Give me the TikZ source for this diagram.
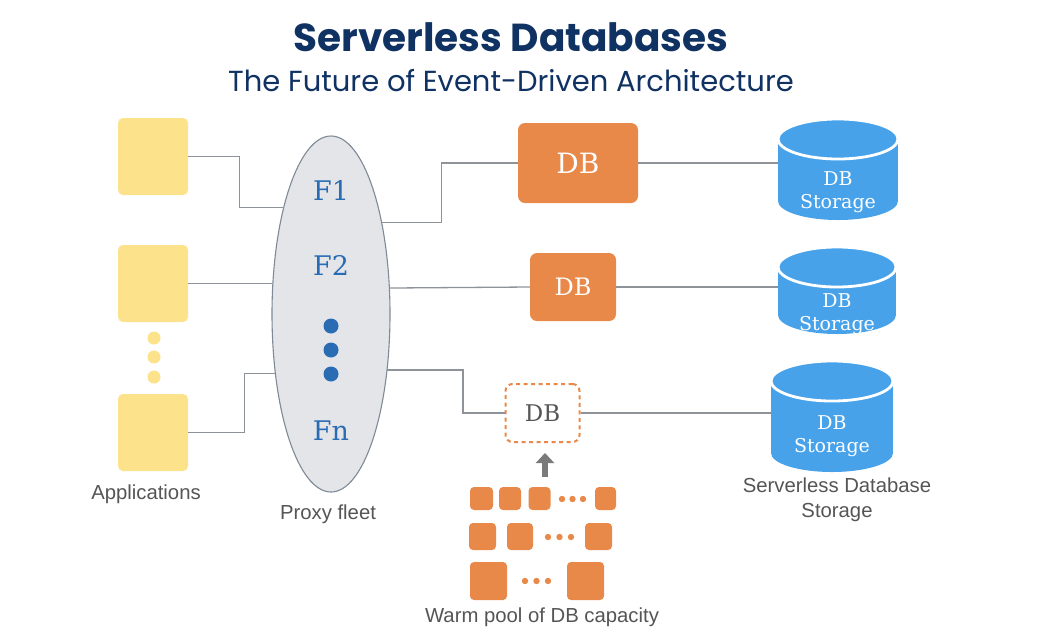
\documentclass[tikz,border=0pt]{standalone}
\usepackage{fontspec}
\setmainfont{DejaVu Serif}
\newfontfamily\titlefont{Poppins}
\newfontfamily\labelfont{Liberation Sans}
\usetikzlibrary{shapes.geometric,arrows.meta}
\definecolor{navy}{HTML}{0F3263}
\definecolor{appyellow}{HTML}{FDE28C}
\definecolor{proxyfill}{HTML}{E3E5E9}
\definecolor{proxyline}{HTML}{7F8A96}
\definecolor{fblue}{HTML}{2A6CB4}
\definecolor{dborange}{HTML}{E8894A}
\definecolor{cylblue}{HTML}{48A2EA}
\definecolor{linegray}{HTML}{8E9399}
\definecolor{labelgray}{HTML}{555555}
\definecolor{arrowgray}{HTML}{7A7A7A}
\tikzset{
  conn/.style={draw=linegray, line width=1.3pt},
  app/.style={fill=appyellow, rounded corners=5pt, minimum width=70pt, minimum height=77pt, inner sep=0pt},
  dbbox/.style={fill=dborange, rounded corners=7pt, text=white, inner sep=0pt},
  dbghost/.style={draw=dborange, dash pattern=on 4pt off 3.5pt, line width=2pt, rounded corners=7pt, text=labelgray, inner sep=0pt},
  poolbox/.style={fill=dborange, rounded corners=4pt, inner sep=0pt},
  lbl/.style={text=labelgray, font=\labelfont\fontsize{20.3}{25}\selectfont, align=center},
  flabel/.style={text=fblue, font=\fontsize{27}{30}\selectfont},
  storetext/.style={text=white, align=center, font=\fontsize{19}{22.5}\selectfont},
  bigarrow/.style={draw=arrowgray, line width=6pt, -{Triangle[width=18pt,length=10pt]}},
}
\newcommand\storagecyl[5]{% name, cx, cap cy, bottom cy, rx
  \fill[cylblue] (#2-#5,#3) rectangle (#2+#5,#4);
  \fill[cylblue] (#2,#4) ellipse[x radius=#5, y radius=19];
  \filldraw[fill=cylblue, draw=white, line width=2.8pt] (#2,#3) ellipse[x radius=#5, y radius=20];
  \node[inner sep=0pt, minimum width=2*#5 pt, minimum height=#4-#3 pt] (#1) at (#2,{(#3+#4)/2}) {};
}
\begin{document}
\begin{tikzpicture}[x=1pt,y=-1pt]
\useasboundingbox (0,0) rectangle (1049,643);
\fill[white] (0,0) rectangle (1049,643);

% titles
\node[text=navy, font=\titlefont\bfseries\fontsize{39}{44}\selectfont] (title) at (511,37) {Serverless Databases};
\node[text=navy, font=\titlefont\fontsize{29}{33}\selectfont] (subtitle) at (511,81) {The Future of Event-Driven Architecture};

% applications
\node[app] (app1) at (153,156.5) {};
\node[app] (app2) at (153,283.5) {};
\node[app] (app3) at (153,432.5) {};
\fill[appyellow] (154,338) circle[radius=6.5];
\fill[appyellow] (154,357) circle[radius=6.5];
\fill[appyellow] (154,377) circle[radius=6.5];
\node[lbl] (applbl) at (146,494) {Applications};

% proxy fleet
\node[ellipse, fill=proxyfill, draw=proxyline, line width=1.1pt, minimum width=118pt, minimum height=356pt, inner sep=0pt, outer sep=0pt] (proxy) at (331,314) {};
\node[flabel] (f1) at (331,190) {F1};
\node[flabel] (f2) at (331,265) {F2};
\node[flabel] (fn) at (331,431) {Fn};
\fill[fblue] (331,326) circle[radius=7.5];
\fill[fblue] (331,350) circle[radius=7.5];
\fill[fblue] (331,374) circle[radius=7.5];
\node[lbl] (proxylbl) at (328,514) {Proxy fleet};

% DB instances
\node[dbbox, minimum width=120pt, minimum height=80pt, font=\fontsize{28}{30}\selectfont] (db1) at (578,163) {DB};
\node[dbbox, minimum width=86pt, minimum height=68pt, font=\fontsize{24}{26}\selectfont] (db2) at (573,287) {DB};
\node[dbghost, minimum width=74pt, minimum height=58pt, font=\fontsize{23}{26}\selectfont] (db3) at (542.5,413) {DB};

% storage
\storagecyl{s1}{838}{139}{201}{60}
\storagecyl{s2}{837}{267}{315}{59}
\storagecyl{s3}{832}{381}{453}{61}
\node[storetext] (s1t) at (838,192) {DB\\Storage};
\node[storetext] (s2t) at (837,314) {DB\\Storage};
\node[storetext] (s3t) at (832,436) {DB\\Storage};
\node[lbl] (storelbl) at (837,500) {Serverless Database\\Storage};

% warm pool
\node[poolbox, minimum width=23pt, minimum height=23pt] (p11) at (481.5,498.5) {};
\node[poolbox, minimum width=22pt, minimum height=23pt] (p12) at (510,498.5) {};
\node[poolbox, minimum width=22pt, minimum height=23pt] (p13) at (539.5,498.5) {};
\node[poolbox, minimum width=21pt, minimum height=23pt] (p14) at (605.5,498.5) {};
\foreach \x in {562,572.5,583} \fill[dborange] (\x,499) circle[radius=3.2];
\node[poolbox, minimum width=27pt, minimum height=27pt] (p21) at (482.5,536.5) {};
\node[poolbox, minimum width=26pt, minimum height=27pt] (p22) at (520,536.5) {};
\node[poolbox, minimum width=27pt, minimum height=27pt] (p23) at (598.5,536.5) {};
\foreach \x in {548,559.5,571} \fill[dborange] (\x,537) circle[radius=3.2];
\node[poolbox, minimum width=37pt, minimum height=38pt] (p31) at (488.5,581) {};
\node[poolbox, minimum width=37pt, minimum height=38pt] (p32) at (585.5,581) {};
\foreach \x in {525,536.5,548} \fill[dborange] (\x,581) circle[radius=3.2];
\node[lbl] (poollbl) at (542,617) {Warm pool of DB capacity};
\coordinate (pooltop) at (545,487);
\draw[bigarrow, shorten <=10pt, shorten >=10pt] (pooltop) -- (pooltop |- db3.south);

% connectors: applications to proxy
\draw[conn] (app1.east) -- ++(51,0) |- (proxy.114.7);
\draw[conn] (app2.east) -- (app2.east -| proxy.153.5);
\draw[conn] (app3.east) -- ++(56,0) |- (proxy.227.8);
% proxy to DB
\draw[conn] (proxy.61.2) -- ++(60,0) |- (db1.west);
\draw[conn] (proxy.24.8) -- (db2.west);
\draw[conn] (proxy.-45.5) -- ++(76,0) |- (db3.west);
% DB to storage
\draw[conn] (db1.east) -- (db1.east -| s1.west);
\draw[conn] (db2.east) -- (db2.east -| s2.west);
\draw[conn] (db3.east) -- (db3.east -| s3.west);
\end{tikzpicture}
\end{document}
